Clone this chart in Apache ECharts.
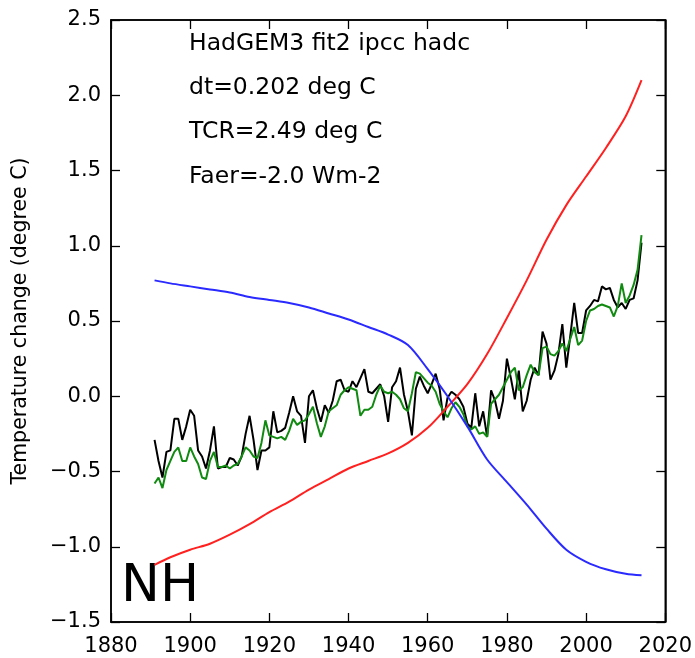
<!DOCTYPE html>
<html>
<head>
<meta charset="utf-8">
<script src="https://cdn.jsdelivr.net/npm/echarts@6/dist/echarts.min.js"></script>
<style>
html,body{margin:0;padding:0;background:#fff;}
#chart{width:695px;height:658px;}
</style>
</head>
<body>
<div id="chart"></div>
<script>
// ---- data ----
var START_YEAR = 1891;
var obsValues = [ // black, 1891-2014
 -0.29,-0.43,-0.54,-0.37,-0.36,-0.15,-0.15,-0.29,-0.20,-0.09,
 -0.13,-0.36,-0.40,-0.48,-0.36,-0.20,-0.48,-0.47,-0.47,-0.41,
 -0.42,-0.46,-0.40,-0.25,-0.13,-0.29,-0.49,-0.36,-0.36,-0.34,
 -0.10,-0.24,-0.23,-0.21,-0.11, 0.00,-0.10,-0.13,-0.31, 0.00,
  0.04,-0.08,-0.17,-0.06,-0.11,-0.03, 0.10, 0.11, 0.04, 0.03,
  0.10, 0.06, 0.12, 0.18, 0.03, 0.02, 0.05, 0.08, 0.00,-0.17,
  0.06, 0.10, 0.19, 0.01,-0.10,-0.26, 0.05, 0.13, 0.07, 0.02,
  0.08, 0.15, 0.05,-0.16,-0.01, 0.03, 0.01,-0.02,-0.07,-0.18,
 -0.21, 0.02,-0.20,-0.10,-0.27, 0.04,-0.03,-0.15,-0.03, 0.25,
  0.12,-0.02, 0.17,-0.10,-0.03, 0.11, 0.19, 0.14, 0.43, 0.35,
  0.11, 0.17, 0.28, 0.48, 0.19, 0.40, 0.62, 0.42, 0.42, 0.57,
  0.60, 0.64, 0.63, 0.73, 0.71, 0.72, 0.64, 0.59, 0.62, 0.58,
  0.64, 0.65, 0.77, 1.02
];
var fitValues = [ // green, 1891-2014
 -0.58,-0.54,-0.61,-0.49,-0.43,-0.37,-0.34,-0.43,-0.43,-0.34,
 -0.40,-0.45,-0.54,-0.55,-0.43,-0.37,-0.47,-0.47,-0.46,-0.48,
 -0.46,-0.45,-0.40,-0.34,-0.36,-0.40,-0.41,-0.31,-0.16,-0.26,
 -0.27,-0.28,-0.27,-0.29,-0.23,-0.15,-0.19,-0.17,-0.16,-0.12,
 -0.07,-0.18,-0.27,-0.20,-0.10,-0.08,-0.06, 0.01, 0.04, 0.06,
  0.05, 0.04,-0.13,-0.09,-0.09,-0.07, 0.01, 0.07, 0.03, 0.02,
  0.03, 0.01,-0.02,-0.08,-0.10, 0.02, 0.16, 0.15, 0.12, 0.09,
  0.07, 0.03,-0.05,-0.10,-0.14,-0.08,-0.04,-0.07,-0.12,-0.20,
 -0.22,-0.20,-0.25,-0.24,-0.27,-0.05,-0.02, 0.01, 0.06, 0.11,
  0.16, 0.19, 0.04, 0.06, 0.14, 0.21, 0.16, 0.14, 0.32, 0.33,
  0.28, 0.27, 0.30, 0.35, 0.30, 0.38, 0.46, 0.34, 0.37, 0.50,
  0.57, 0.58, 0.60, 0.61, 0.60, 0.59, 0.53, 0.60, 0.75, 0.62,
  0.67, 0.74, 0.84, 1.07
];
var curveYears = [1891,1895,1900,1905,1910,1915,1920,1925,1930,1935,1940,1945,1950,1955,1960,1965,1970,1975,1980,1985,1990,1995,2000,2005,2010,2014];
var redValues  = [-1.12,-1.07,-1.02,-0.98,-0.92,-0.85,-0.77,-0.70,-0.62,-0.55,-0.48,-0.43,-0.38,-0.31,-0.21,-0.07,0.08,0.28,0.52,0.77,1.04,1.27,1.46,1.65,1.86,2.10];
var blueValues = [0.77,0.75,0.73,0.71,0.69,0.66,0.64,0.62,0.59,0.55,0.51,0.46,0.41,0.34,0.18,0.00,-0.20,-0.42,-0.57,-0.72,-0.88,-1.02,-1.10,-1.15,-1.18,-1.19];
var xTicks = {min:1880, max:2020, step:20};
var yTicks = {min:-1.5, max:2.5, step:0.5};
var notes = ['HadGEM3 fit2 ipcc hadc','dt=0.202 deg C','TCR=2.49 deg C','Faer=-2.0 Wm-2'];
var panelLabel = 'NH';
var yName = 'Temperature change (degree C)';

// ---- build ----
function pairs(ys, vals){ return vals.map(function(v,i){ return [ys[i], v]; }); }
var annualYears = obsValues.map(function(_,i){ return START_YEAR + i; });
var FONT = 'DejaVu Sans';
var chart = echarts.init(document.getElementById('chart'), null, {renderer:'canvas'});
function lineSeries(data, color, smooth, xi, yi){
  return {type:'line', data:data, symbol:'none', smooth:smooth||false, animation:false,
    lineStyle:{color:color, width:2}, xAxisIndex:xi||0, yAxisIndex:yi||0, z:2, silent:true};
}
function axisLine(){ return {show:true, onZero:false, lineStyle:{color:'#000', width:1.5}}; }
function tick(){ return {show:true, inside:true, length:9, lineStyle:{color:'#000', width:1.3}}; }
var noteGraphics = notes.map(function(t,i){
  return {type:'text', left:189, top:[32,76,120,165][i], style:{text:t, font:'23.5px "DejaVu Sans"', fill:'#000'}};
});
noteGraphics.push({type:'text', left:121, top:561, style:{text:panelLabel, font:'52px "DejaVu Sans"', fill:'#000'}});
var option = {
  animation:false,
  backgroundColor:'#fff',
  grid:{left:111, right:28, top:20, bottom:36, containLabel:false, show:true,
        borderColor:'#000', borderWidth:1.5, backgroundColor:'transparent'},
  xAxis:[
    {type:'value', min:xTicks.min, max:xTicks.max, interval:xTicks.step, position:'bottom',
     axisLine:axisLine(), splitLine:{show:false}, axisTick:tick(),
     axisLabel:{color:'#000', fontFamily:FONT, fontSize:21, margin:14,
       formatter:function(v){ return String(v); }}},
    {type:'value', min:xTicks.min, max:xTicks.max, interval:xTicks.step, position:'top',
     axisLine:axisLine(), splitLine:{show:false}, axisTick:tick(), axisLabel:{show:false}}
  ],
  yAxis:[
    {type:'value', min:yTicks.min, max:yTicks.max, interval:yTicks.step, position:'left',
     axisLine:axisLine(), splitLine:{show:false}, axisTick:tick(),
     axisLabel:{color:'#000', fontFamily:FONT, fontSize:21, margin:10,
       formatter:function(v){ return v.toFixed(1).replace('-', '\u2212'); }},
     name:yName, nameLocation:'middle', nameGap:80, nameRotate:90,
     nameTextStyle:{color:'#000', fontFamily:FONT, fontSize:20.5}},
    {type:'value', min:yTicks.min, max:yTicks.max, interval:yTicks.step, position:'right',
     axisLine:axisLine(), splitLine:{show:false}, axisTick:tick(), axisLabel:{show:false}}
  ],
  series:[
    lineSeries(pairs(annualYears, obsValues), '#000000'),
    lineSeries(pairs(annualYears, fitValues), '#108a10'),
    lineSeries(pairs(curveYears, redValues), '#ff2020', 0.3),
    lineSeries(pairs(curveYears, blueValues), '#2a2aff', 0.3),
    {type:'line', data:[], xAxisIndex:1, yAxisIndex:1, symbol:'none', silent:true}
  ],
  graphic:noteGraphics
};
chart.setOption(option);
</script>
</body>
</html>
